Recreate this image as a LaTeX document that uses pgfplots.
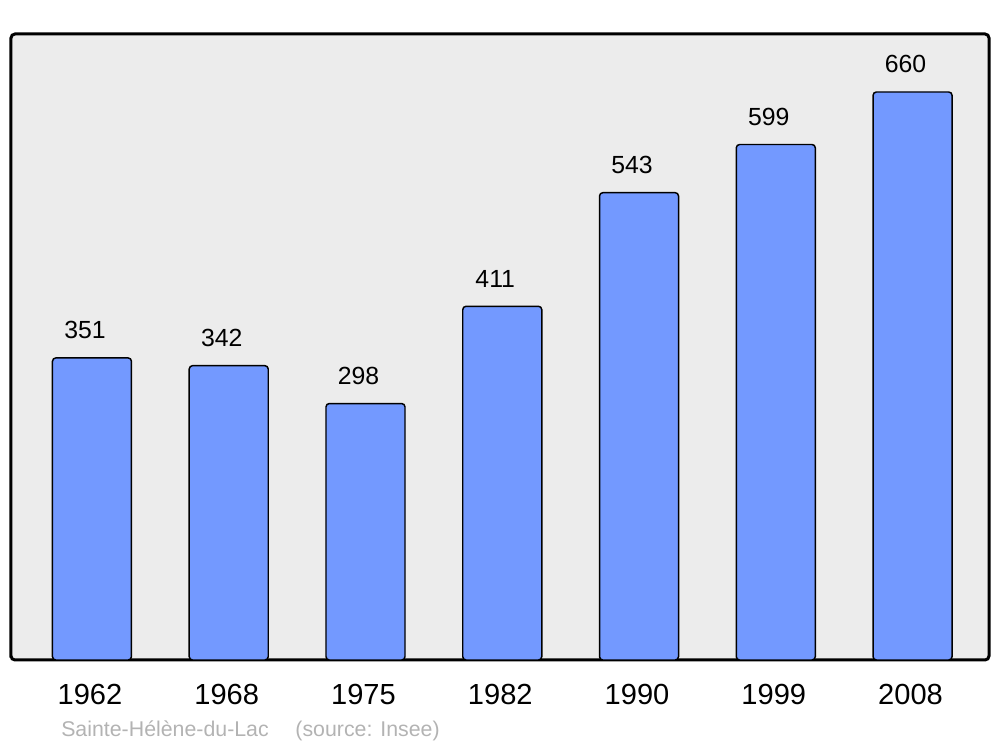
\documentclass[border=0pt]{standalone}
\usepackage{pgfplots}
\pgfplotsset{compat=1.18}
\usepackage{fontspec}
\setmainfont{Liberation Sans}
\definecolor{barblue}{HTML}{7399FF}
\definecolor{bggray}{HTML}{ECECEC}
\definecolor{srcgray}{HTML}{B3B3B3}
\begin{document}
\begin{tikzpicture}
\begin{axis}[
  /pgf/number format/assume math mode=true,
  scale only axis,
  width=733.5pt, height=469.5pt,
  xmin=-0.592, xmax=6.559,
  ymin=0, ymax=727.4,
  axis background/.style={fill=bggray},
  axis line style={line width=2.25pt, rounded corners=3pt},
  xtick=data,
  xticklabels={1962,1968,1975,1982,1990,1999,2008},
  ytick=\empty,
  major tick length=0pt,
  xticklabel style={anchor=base, yshift=-33.75pt, xshift=-1.5pt, font=\fontsize{21.8pt}{24pt}\selectfont},
  ybar, bar width=59.25pt, bar shift=0pt,
  clip=false,
  nodes near coords,
  every node near coord/.append style={anchor=base, yshift=14.25pt, xshift=-5.25pt, font=\fontsize{18.6pt}{22pt}\selectfont, black},
]
\addplot[draw=black, line width=1.1pt, fill=barblue, rounded corners=2.5pt]
  coordinates {(0,351) (1,342) (2,298) (3,411) (4,543) (5,599) (6,660)};
\end{axis}
\node[anchor=base west, text=srcgray, inner sep=0pt, font=\fontsize{16pt}{19pt}\selectfont]
  at ([xshift=37.5pt, yshift=-57.75pt]current axis.south west) {Sainte-Hélène-du-Lac\hspace{20pt}(source: Insee)};
\path ([xshift=-8.25pt, yshift=-65.25pt]current axis.south west) -- ([xshift=8.25pt, yshift=25.5pt]current axis.north east);
\end{tikzpicture}
\end{document}
